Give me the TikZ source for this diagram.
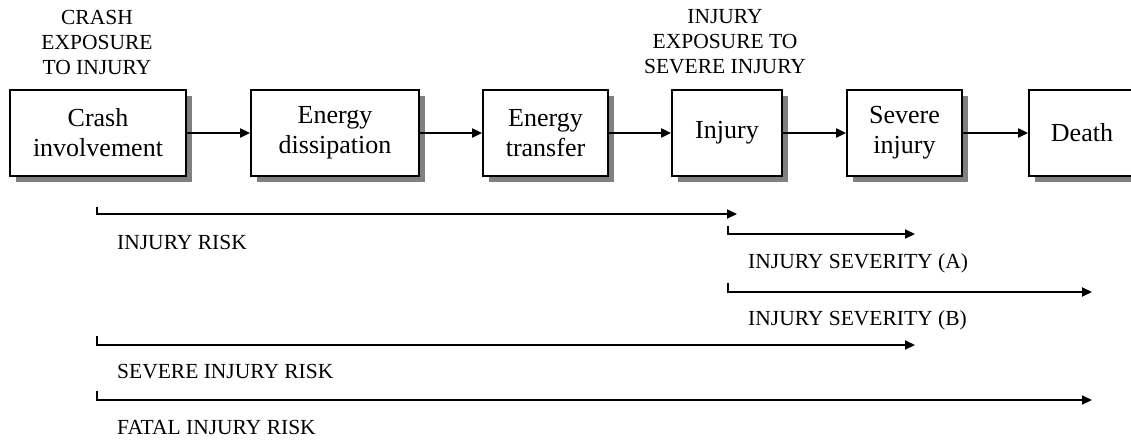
\documentclass[tikz,border=0pt]{standalone}
\usepackage{fontspec}
\setmainfont{Liberation Serif}
\usetikzlibrary{positioning,arrows.meta,shadows}

\begin{document}
\begin{tikzpicture}[
    x=1pt, y=-1pt,
    every node/.style={inner sep=0pt},
    box/.style={draw, line width=1.8pt, fill=white, minimum height=86pt, align=center,
        font=\fontsize{26}{30}\selectfont,
        drop shadow={shadow xshift=6pt, shadow yshift=-6pt, fill=black!50, opacity=1}},
    flow/.style={line width=2pt, -{Triangle[length=10pt,width=9pt]}},
    span/.style={line width=2pt, -{Triangle[length=10pt,width=9pt]}},
    caption/.style={font=\fontsize{21.5}{25}\selectfont, align=center},
    risklabel/.style={font=\fontsize{21.5}{25}\selectfont, anchor=west}
]
\useasboundingbox (0,0) rectangle (1131,439);
\clip (0,0) rectangle (1131,439);

% stages
\node[box, minimum width=176pt] (crash) at (98,133) {Crash\\involvement};
\node[box, minimum width=168pt] (dissip) at (335,133) {Energy\\dissipation};
\node[box, minimum width=125pt] (transfer) at (545.5,133) {Energy\\transfer};
\node[box, minimum width=110pt] (injury) at (727,133) {Injury};
\node[box, minimum width=115pt] (severe) at (904.5,133) {Severe\\injury};
\node[box, minimum width=106pt] (death) at (1082,133) {Death};

% captions above
\node[caption] (crashcap) at (97,42) {CRASH\\EXPOSURE\\TO INJURY};
\node[caption] (injurycap) at (725,42) {INJURY\\EXPOSURE TO\\SEVERE INJURY};

% flow between stages
\draw[flow] (crash) -- (dissip);
\draw[flow] (dissip) -- (transfer);
\draw[flow] (transfer) -- (injury);
\draw[flow] (injury) -- (severe);
\draw[flow] (severe) -- (death);

% spans
\coordinate (risk0) at (97,207);
\coordinate (risk1) at (737,214);
\draw[span] (risk0) |- (risk1);
\node[risklabel] (risktext) at (117,242) {INJURY RISK};

\coordinate (sevA0) at (728,226);
\coordinate (sevA1) at (915,234);
\draw[span] (sevA0) |- (sevA1);
\node[risklabel] (sevAtext) at (748,263) {INJURY SEVERITY (A)};

\coordinate (sevB0) at (728,283);
\coordinate (sevB1) at (1092,292);
\draw[span] (sevB0) |- (sevB1);
\node[risklabel] (sevBtext) at (748,320) {INJURY SEVERITY (B)};

\coordinate (srisk0) at (97,336);
\coordinate (srisk1) at (915,345);
\draw[span] (srisk0) |- (srisk1);
\node[risklabel] (srisktext) at (117,372) {SEVERE INJURY RISK};

\coordinate (frisk0) at (97,391);
\coordinate (frisk1) at (1092,400);
\draw[span] (frisk0) |- (frisk1);
\node[risklabel] (frisktext) at (117,427) {FATAL INJURY RISK};

\end{tikzpicture}
\end{document}
